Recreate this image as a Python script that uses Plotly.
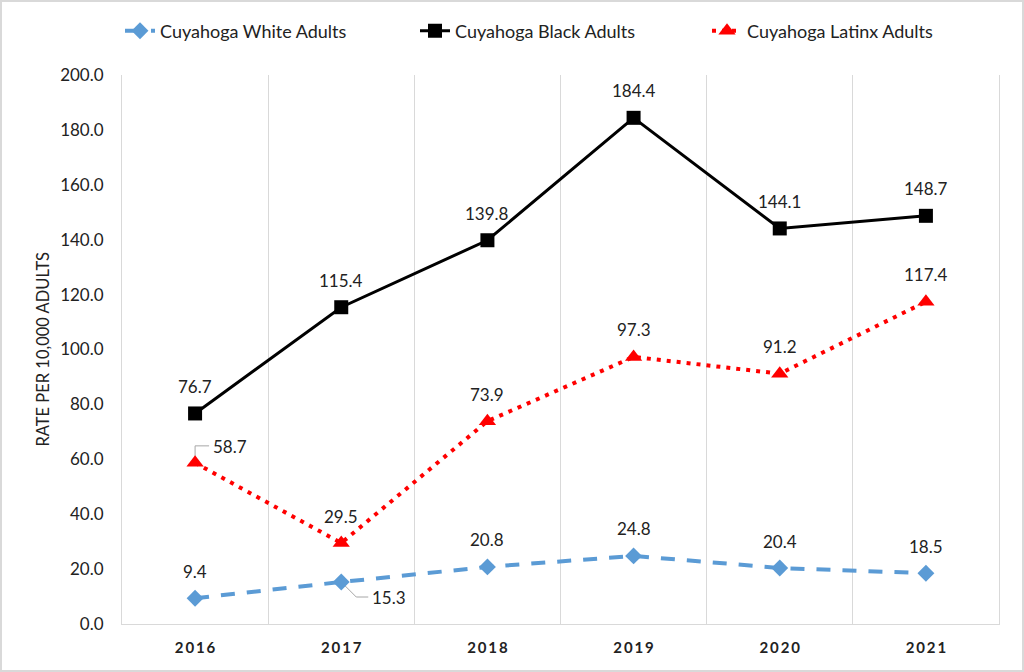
import plotly.graph_objects as go

years = ["2016", "2017", "2018", "2019", "2020", "2021"]
white = [9.4, 15.3, 20.8, 24.8, 20.4, 18.5]
black = [76.7, 115.4, 139.8, 184.4, 144.1, 148.7]
latinx = [58.7, 29.5, 73.9, 97.3, 91.2, 117.4]
ytick_vals = [0, 20, 40, 60, 80, 100, 120, 140, 160, 180, 200]

W, H = 1024, 672
L, R, T, B = 122, 999, 75, 624
PW, PH = R - L, B - T
YMAX = 200

FONT = "Lato"
TXT = "#222222"


def px_to_paper_x(p):
    return (p - L) / PW


def px_to_paper_y(p):
    return (B - p) / PH


def dx(px):  # pixel offset -> category units
    return px / (PW / len(years))


def dy(px):  # pixel offset -> data units
    return px / (PH / YMAX)


fig = go.Figure()

fig.add_trace(go.Scatter(
    x=years, y=white, name="Cuyahoga White Adults", mode="lines+markers",
    line=dict(color="#5B9BD5", width=4, dash="14px,12px"),
    marker=dict(symbol="diamond", size=13, color="#5B9BD5"),
    legend="legend",
))
fig.add_trace(go.Scatter(
    x=years, y=black, name="Cuyahoga Black Adults", mode="lines+markers",
    line=dict(color="#000000", width=3),
    marker=dict(symbol="square", size=14, color="#000000"),
    legend="legend2",
))
fig.add_trace(go.Scatter(
    x=years, y=latinx, name="Cuyahoga Latinx Adults", mode="lines+markers",
    line=dict(color="#FF0000", width=4, dash="4px,6px"),
    marker=dict(symbol="triangle-up", size=15, color="#FF0000"),
    legend="legend3",
))

annotations = []
shapes = []

# special label placements with leader lines (pixel offsets from the point)
special = {
    ("latinx", 0): dict(xshift=35, yshift=16, pts=[(0, 2), (0, 17), (14, 17)]),
    ("white", 1): dict(xshift=48, yshift=-15, pts=[(3, -3), (15, -15), (27, -15)]),
}
for key, series in (("white", white), ("black", black), ("latinx", latinx)):
    for i, v in enumerate(series):
        sp = special.get((key, i))
        xs = sp["xshift"] if sp else 0
        ys = sp["yshift"] if sp else 27
        annotations.append(dict(
            x=i, y=v, xref="x", yref="y", text=f"{v:.1f}", showarrow=False,
            xshift=xs, yshift=ys, font=dict(family=FONT, size=17, color=TXT),
        ))
        if sp:
            pts = sp["pts"]
            for (ax0, ay0), (ax1, ay1) in zip(pts[:-1], pts[1:]):
                shapes.append(dict(
                    type="line", xref="x", yref="y",
                    x0=i + dx(ax0), y0=v + dy(ay0), x1=i + dx(ax1), y1=v + dy(ay1),
                    line=dict(color="#A6A6A6", width=1), layer="below",
                ))

# y axis title
annotations.append(dict(
    x=px_to_paper_x(42), y=0.5, xref="paper", yref="paper",
    text="RATE PER 10,000 ADULTS", textangle=-90, showarrow=False,
    xanchor="center", yanchor="middle",
    font=dict(family=FONT, size=16.5, color=TXT),
))

# outer frame
shapes.append(dict(
    type="rect", xref="paper", yref="paper",
    x0=px_to_paper_x(1), x1=px_to_paper_x(W - 1),
    y0=px_to_paper_y(H - 1), y1=px_to_paper_y(1),
    line=dict(color="#D9D9D9", width=2), layer="below",
))

ticktext = ["\u2009".join(y) for y in years]

legend_common = dict(
    orientation="h", yanchor="middle", xanchor="left",
    y=px_to_paper_y(31), bgcolor="rgba(0,0,0,0)",
    font=dict(family=FONT, size=18, color=TXT),
)

fig.update_layout(
    width=W, height=H,
    margin=dict(l=L, r=W - R, t=T, b=H - B, pad=0),
    paper_bgcolor="white", plot_bgcolor="white",
    font=dict(family=FONT, color=TXT),
    showlegend=True,
    legend=dict(legend_common, x=px_to_paper_x(160 - 40)),
    legend2=dict(legend_common, x=px_to_paper_x(455 - 40)),
    legend3=dict(legend_common, x=px_to_paper_x(747 - 40)),
    annotations=annotations,
    shapes=shapes,
    xaxis=dict(
        type="category", range=[-0.5, 5.5],
        tickmode="array", tickvals=years, ticktext=ticktext,
        tickson="boundaries", ticks="", showgrid=True, gridcolor="#D9D9D9", gridwidth=1,
        showline=True, linecolor="#D9D9D9", linewidth=1,
        tickfont=dict(family=FONT, size=15, color=TXT, weight="bold"),
        ticklabelstandoff=10, zeroline=False,
    ),
    yaxis=dict(
        range=[0, YMAX], tickmode="array", tickvals=ytick_vals, tickformat=".1f",
        showgrid=False, zeroline=False,
        showline=True, linecolor="#D9D9D9", linewidth=1, mirror=True,
        ticks="", tickfont=dict(family=FONT, size=17, color=TXT),
        ticklabelstandoff=14,
    ),
)

fig.write_html("out.html", config={"displayModeBar": False},
               post_script="document.body.style.margin='0';")
